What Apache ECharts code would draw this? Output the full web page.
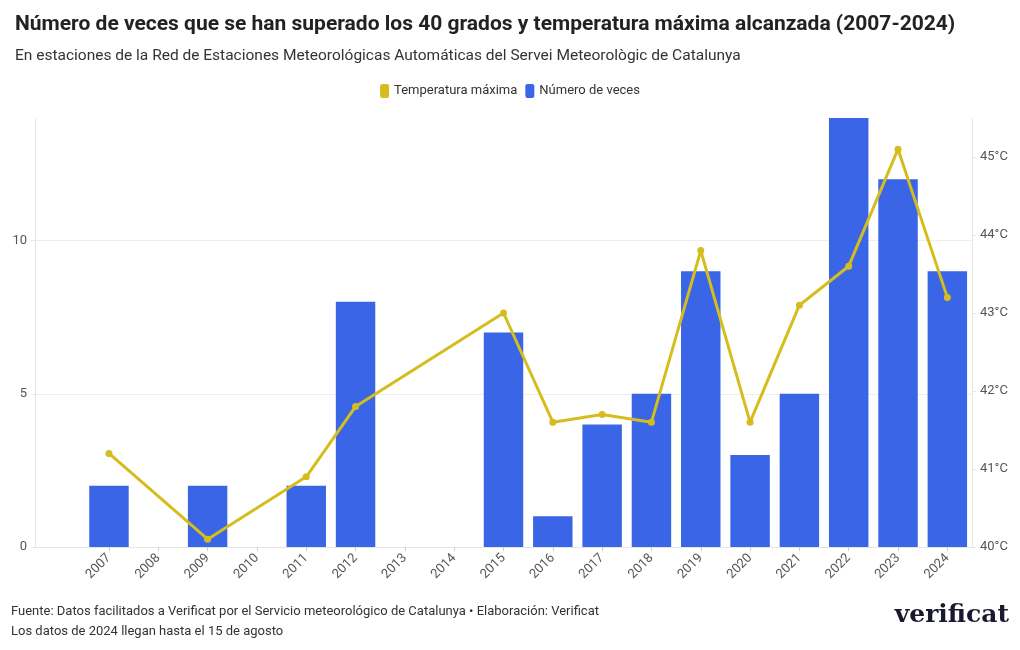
<!DOCTYPE html>
<html>
<head>
<meta charset="utf-8">
<script src="https://cdn.jsdelivr.net/npm/echarts@6/dist/echarts.min.js"></script>
<style>html,body{margin:0;padding:0;background:#fff}#c{width:1020px;height:650px}</style>
</head>
<body>
<div id="c"></div>
<script>
const years = ['2007','2008','2009','2010','2011','2012','2013','2014','2015','2016','2017','2018','2019','2020','2021','2022','2023','2024'];
const counts = [2, 0, 2, 0, 2, 8, 0, 0, 7, 1, 4, 5, 9, 3, 5, 14, 12, 9];
const maxTemps = [41.2, null, 40.1, null, 40.9, 41.8, null, null, 43.0, 41.6, 41.7, 41.6, 43.8, 41.6, 43.1, 43.6, 45.1, 43.2];
const leftTicks = [0, 5, 10];
const rightTicks = [40, 41, 42, 43, 44, 45];

const FONT = 'Roboto';
const cats = [''].concat(years);
const chart = echarts.init(document.getElementById('c'), null, {renderer: 'canvas'});
chart.setOption({
  animation: false,
  backgroundColor: '#fff',
  textStyle: {fontFamily: FONT},
  title: {
    text: 'Número de veces que se han superado los 40 grados y temperatura máxima alcanzada (2007-2024)',
    subtext: 'En estaciones de la Red de Estaciones Meteorológicas Automáticas del Servei Meteorològic de Catalunya',
    left: 10, top: 9,
    itemGap: 13,
    textStyle: {fontFamily: FONT, fontSize: 21, fontWeight: 'bold', color: '#222'},
    subtextStyle: {fontFamily: FONT, fontSize: 15.5, color: '#333'}
  },
  legend: {
    top: 79, left: 'center',
    itemWidth: 9, itemHeight: 14, itemGap: 8,
    icon: 'roundRect',
    textStyle: {fontFamily: FONT, fontSize: 13, color: '#333'},
    data: ['Temperatura máxima', 'Número de veces']
  },
  grid: {left: 35, right: 48, top: 118, bottom: 103, containLabel: false},
  xAxis: {
    type: 'category',
    data: cats,
    boundaryGap: true,
    axisLine: {show: true, lineStyle: {color: '#e6e6e6'}},
    axisTick: {show: true, alignWithLabel: true, length: 4, lineStyle: {color: '#ccc'},
      interval: function (i) { return i > 0; }},
    axisLabel: {rotate: 45, fontSize: 13, color: '#555', fontFamily: FONT, interval: 0, margin: 9}
  },
  yAxis: [
    {
      type: 'value', min: 0, max: 14, interval: 5, position: 'left',
      axisLine: {show: true, lineStyle: {color: '#e6e6e6'}},
      axisTick: {show: true, length: 4, lineStyle: {color: '#e6e6e6'}, customValues: leftTicks},
      axisLabel: {fontSize: 13, color: '#555', fontFamily: FONT, margin: 8, customValues: leftTicks},
      splitLine: {show: true, lineStyle: {color: '#eeeeee'}}
    },
    {
      type: 'value', min: 40, max: 45.5, interval: 1, position: 'right',
      axisLine: {show: true, lineStyle: {color: '#e6e6e6'}},
      axisTick: {show: true, length: 4, lineStyle: {color: '#e6e6e6'}, customValues: rightTicks},
      axisLabel: {fontSize: 13, color: '#555', fontFamily: FONT, margin: 8, customValues: rightTicks,
        formatter: function (v) { return v + '°C'; }},
      splitLine: {show: false}
    }
  ],
  series: [
    {
      name: 'Número de veces', type: 'bar', yAxisIndex: 0,
      data: [null].concat(counts),
      barCategoryGap: '20%',
      itemStyle: {color: '#3a65e6'},
      z: 2
    },
    {
      name: 'Temperatura máxima', type: 'line', yAxisIndex: 1,
      data: [null].concat(maxTemps),
      connectNulls: true,
      symbol: 'circle', symbolSize: 7,
      lineStyle: {color: '#d6bd1e', width: 3},
      itemStyle: {color: '#d6bd1e'},
      z: 3
    }
  ],
  graphic: [
    {type: 'text', left: 11, top: 605, style: {text: 'Fuente: Datos facilitados a Verificat por el Servicio meteorológico de Catalunya • Elaboración: Verificat', fontFamily: FONT, fontSize: 13, fill: '#333'}},
    {type: 'text', left: 11, top: 625, style: {text: 'Los datos de 2024 llegan hasta el 15 de agosto', fontFamily: FONT, fontSize: 13, fill: '#333'}},
    {type: 'text', right: 11, top: 603, style: {text: 'verificat', fontFamily: 'DejaVu Serif', fontWeight: 'bold', fontSize: 25, fill: '#1a1a2e'}}
  ]
});
</script>
</body>
</html>
